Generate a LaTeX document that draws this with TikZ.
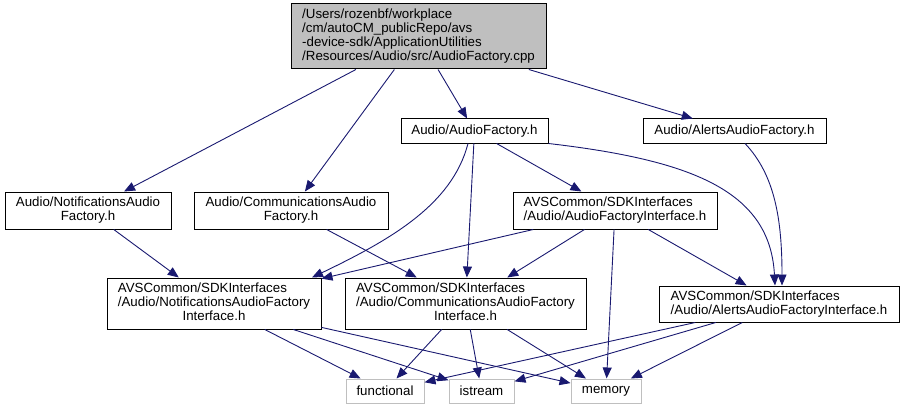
\documentclass[tikz,border=0pt]{standalone}
\usepackage{fontspec}
\setmainfont{Liberation Sans}
\usepackage{xcolor}
\usepackage{tikz}
\usetikzlibrary{arrows.meta, calc}

\definecolor{depblue}{HTML}{191970}
\definecolor{sysgray}{HTML}{BFBFBF}

\tikzset{
    filebox/.style={draw=black, fill=white, line width=1pt, inner sep=2pt,
        font=\fontsize{13.3}{14}\selectfont},
    rootbox/.style={filebox, fill=sysgray, align=left},
    sysbox/.style={filebox, draw=sysgray, minimum height=24pt},
    dep/.style={draw=depblue, line width=0.9pt, -{Triangle[length=11pt, width=9pt]}}
}

\begin{document}
\begin{tikzpicture}[x=1pt, y=-1pt]
    % Khung ảnh theo kích thước gốc
    \useasboundingbox (0,0) rectangle (904,409);

    % Tệp gốc
    \node[rootbox, minimum width=255pt, minimum height=65pt] (cpp) at (418.5,36.5)
        {/Users/rozenbf/workplace\\/cm/autoCM\_publicRepo/avs\\-device-sdk/ApplicationUtilities\\/Resources/Audio/src/AudioFactory.cpp};

    % Các tệp tiêu đề Audio
    \node[filebox, minimum width=147pt, minimum height=24pt] (audiofactory) at (474.5,131) {Audio/AudioFactory.h};
    \node[filebox, minimum width=183pt, minimum height=24pt] (alertsfactory) at (734.5,131) {Audio/AlertsAudioFactory.h};
    \node[filebox, minimum width=166pt, minimum height=37pt] (notiffactory) at (88,210.5)
        {\begin{tabular}{@{}l@{}}Audio/NotificationsAudio\\\multicolumn{1}{@{}c@{}}{Factory.h}\end{tabular}};
    \node[filebox, minimum width=194pt, minimum height=37pt] (commfactory) at (291,210.5)
        {\begin{tabular}{@{}l@{}}Audio/CommunicationsAudio\\\multicolumn{1}{@{}c@{}}{Factory.h}\end{tabular}};

    % Các giao diện SDK
    \node[filebox, align=left, minimum width=204pt, minimum height=37pt] (factoryif) at (615,210.5)
        {AVSCommon/SDKInterfaces\\/Audio/AudioFactoryInterface.h};
    \node[filebox, minimum width=214pt, minimum height=51pt] (notifif) at (214,303.5)
        {\begin{tabular}{@{}l@{}}AVSCommon/SDKInterfaces\\/Audio/NotificationsAudioFactory\\\multicolumn{1}{@{}c@{}}{Interface.h}\end{tabular}};
    \node[filebox, minimum width=241pt, minimum height=51pt] (commif) at (465.5,303.5)
        {\begin{tabular}{@{}l@{}}AVSCommon/SDKInterfaces\\/Audio/CommunicationsAudioFactory\\\multicolumn{1}{@{}c@{}}{Interface.h}\end{tabular}};
    \node[filebox, align=left, minimum width=240pt, minimum height=36pt] (alertsif) at (779,304)
        {AVSCommon/SDKInterfaces\\/Audio/AlertsAudioFactoryInterface.h};

    % Thư viện chuẩn
    \node[sysbox, minimum width=78pt] (functional) at (385,391) {functional};
    \node[sysbox, minimum width=65pt] (istream) at (481.5,391) {istream};
    \node[sysbox, minimum width=70pt] (memory) at (606,391) {memory};

    % Phụ thuộc từ tệp gốc
    \draw[dep] (cpp) -- (notiffactory);
    \draw[dep] (cpp) -- (commfactory);
    \draw[dep] (cpp) -- (audiofactory);
    \draw[dep] (cpp) -- (alertsfactory);

    % Phụ thuộc của AudioFactory.h
    \draw[dep] ([xshift=-6.5pt]audiofactory.south) .. controls (452,205) and (390,240) .. ([xshift=98pt]notifif.north);
    \draw[dep] (audiofactory) -- (commif);
    \draw[dep] (audiofactory) -- (factoryif);
    \draw[dep] (audiofactory.south east) .. controls (690,160) and (770,190) .. ([xshift=-4pt]alertsif.north);
    \draw[dep] ([xshift=10.5pt]alertsfactory.south) .. controls (775,175) and (782,220) .. ([xshift=3pt]alertsif.north);

    % Tầng giữa
    \draw[dep] (notiffactory) -- (notifif);
    \draw[dep] (commfactory) -- (commif);
    \draw[dep] (factoryif) -- (notifif);
    \draw[dep] (factoryif) -- (commif);
    \draw[dep] (factoryif) -- (memory);
    \draw[dep] (factoryif) -- (alertsif);

    % Xuống thư viện chuẩn
    \foreach \src in {notifif, commif, alertsif}
        \foreach \dst in {functional, istream, memory}
            \draw[dep] (\src) -- (\dst);
\end{tikzpicture}
\end{document}
